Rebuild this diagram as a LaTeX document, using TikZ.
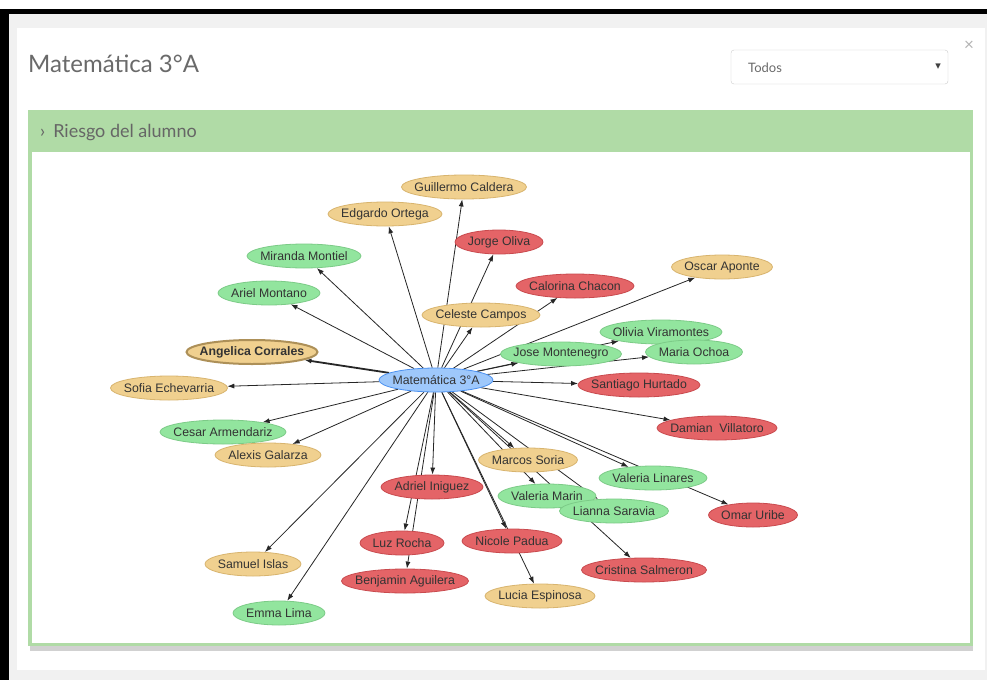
\documentclass[tikz,border=0pt]{standalone}
\usepackage{fontspec}
\setmainfont{Liberation Sans}
\newfontfamily\headfont{Lato}
\newfontfamily\symfont{DejaVu Sans}
\usetikzlibrary{arrows.meta,shapes.geometric,backgrounds}

\definecolor{pagegray}{HTML}{F1F1F1}
\definecolor{hdrgreen}{HTML}{B0DBA6}
\definecolor{titlegray}{HTML}{6A6A6A}
\definecolor{txtgray}{HTML}{333333}
\definecolor{midfill}{HTML}{F0D08F}
\definecolor{midline}{HTML}{D8B46E}
\definecolor{riskfill}{HTML}{E46467}
\definecolor{riskline}{HTML}{C94A4E}
\definecolor{okfill}{HTML}{92E59E}
\definecolor{okline}{HTML}{7CCB87}
\definecolor{subjfill}{HTML}{9EC8FB}
\definecolor{subjline}{HTML}{4A90F0}

\begin{document}
\begin{tikzpicture}[
  x=1pt, y=-1pt,
  stu/.style={ellipse, line width=0.8pt, inner xsep=-40pt, inner ysep=-10pt, minimum height=24pt, text=txtgray, font=\fontsize{12.3}{14}\selectfont},
  mid/.style={stu, fill=midfill, draw=midline},
  risk/.style={stu, fill=riskfill, draw=riskline},
  ok/.style={stu, fill=okfill, draw=okline},
  subj/.style={stu, fill=subjfill, draw=subjline},
  link/.style={-{Latex[length=7pt,width=5pt]}, line width=0.8pt, black!85}
]
\useasboundingbox (0,0) rectangle (987,680);

% page and panel
\begin{scope}[on background layer]
\fill[white] (0,0) rectangle (987,680);
\fill[pagegray] (9,14) rectangle (987,680);
\fill[black] (0,9) rectangle (987,14);
\fill[black] (0,9) rectangle (9,680);
\fill[white] (17,28) rectangle (985,670);
\fill[black!18] (30,646) rectangle (973,651);
\fill[hdrgreen] (28,110) rectangle (973,646);
\fill[white] (32,152) rectangle (970,643);
\end{scope}

\node[anchor=west, inner sep=0pt, text=titlegray, font=\headfont\fontsize{24}{28}\selectfont] (title) at (28,64) {Matemática 3°A};
\node[draw=black!20, fill=white, rounded corners=3pt, minimum width=217pt, minimum height=34pt] (select) at (839.5,67) {};
\node[anchor=west, inner sep=0pt, text=titlegray, font=\headfont\fontsize{13}{15}\selectfont] (todos) at (748,68) {Todos};
\node[inner sep=0pt, text=black!75, font=\symfont\fontsize{11}{12}\selectfont] (caret) at (938,67) {▾};
\node[inner sep=0pt, text=black!30, font=\headfont\fontsize{17}{18}\selectfont] (close) at (969,46) {×};
\node[anchor=west, inner sep=0pt, text=black!60, font=\headfont\fontsize{18}{20}\selectfont] (riesgo) at (40,133) {›\hspace{8pt}Riesgo del alumno};

% students
\node[mid, minimum width=125pt] (guillermo) at (464,187) {Guillermo Caldera};
\node[mid, minimum width=114pt] (edgardo) at (385,214) {Edgardo Ortega};
\node[risk, minimum width=88pt] (jorge) at (499,242) {Jorge Oliva};
\node[ok, minimum width=114pt] (miranda) at (304,256) {Miranda Montiel};
\node[mid, minimum width=101pt] (oscar) at (722,267) {Oscar Aponte};
\node[risk, minimum width=118pt] (calorina) at (575,286) {Calorina Chacon};
\node[ok, minimum width=102pt] (ariel) at (269,293) {Ariel Montano};
\node[mid, minimum width=118pt] (celeste) at (481,315) {Celeste Campos};
\node[ok, minimum width=121pt] (jose) at (561,354) {Jose Montenegro};
\node[ok, minimum width=122pt] (olivia) at (661,332) {Olivia Viramontes};
\node[ok, minimum width=97pt] (maria) at (694,352) {Maria Ochoa};
\node[mid, minimum width=131pt, line width=2pt, draw=midline!80!black, font=\fontsize{12.3}{14}\selectfont\bfseries] (angelica) at (252,352) {Angelica Corrales};
\node[mid, minimum width=117pt] (sofia) at (169,388) {Sofia Echevarria};
\node[risk, minimum width=122pt] (santiago) at (639,385) {Santiago Hurtado};
\node[risk, minimum width=120pt] (damian) at (717,428) {Damian~~Villatoro};
\node[ok, minimum width=126pt] (cesar) at (223,432) {Cesar Armendariz};
\node[mid, minimum width=106pt] (alexis) at (268,455) {Alexis Galarza};
\node[mid, minimum width=99pt] (marcos) at (528,460) {Marcos Soria};
\node[ok, minimum width=108pt] (valerial) at (653,478) {Valeria Linares};
\node[risk, minimum width=102pt] (adriel) at (432,487) {Adriel Iniguez};
\node[ok, minimum width=98pt] (valeriam) at (547,496) {Valeria Marin};
\node[ok, minimum width=109pt] (lianna) at (614,511) {Lianna Saravia};
\node[risk, minimum width=89pt] (omar) at (753,515) {Omar Uribe};
\node[risk, minimum width=84pt] (luz) at (402,543) {Luz Rocha};
\node[risk, minimum width=100pt] (nicole) at (512,541) {Nicole Padua};
\node[mid, minimum width=96pt] (samuel) at (253,564) {Samuel Islas};
\node[risk, minimum width=125pt] (cristina) at (644,570) {Cristina Salmeron};
\node[risk, minimum width=127pt] (benjamin) at (405,581) {Benjamin Aguilera};
\node[mid, minimum width=110pt] (lucia) at (540,596) {Lucia Espinosa};
\node[ok, minimum width=92pt] (emma) at (279,613) {Emma Lima};

\node[subj, minimum width=114pt] (mat) at (436,380) {Matemática 3°A};

\begin{scope}[on background layer]
\foreach \s in {guillermo,edgardo,jorge,miranda,oscar,calorina,ariel,celeste,jose,olivia,maria,sofia,santiago,damian,cesar,alexis,marcos,valerial,adriel,valeriam,lianna,omar,luz,nicole,samuel,cristina,benjamin,lucia,emma}
  \draw[link] (mat) -- (\s);
\draw[link, line width=1.8pt] (mat) -- (angelica);
\end{scope}

\end{tikzpicture}
\end{document}
